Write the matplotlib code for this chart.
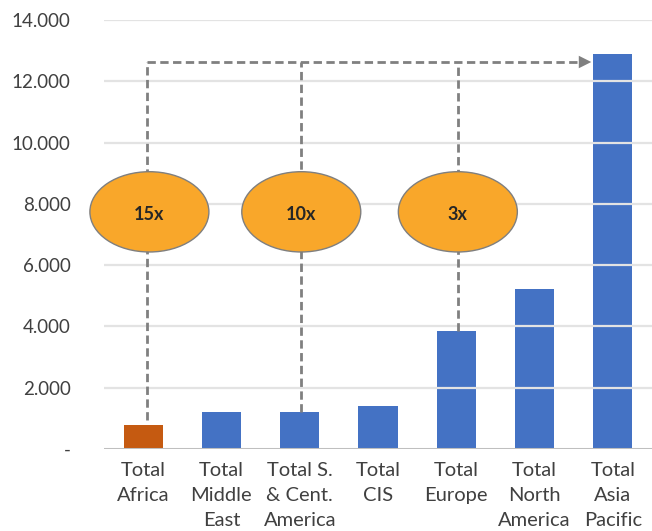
import matplotlib
matplotlib.use('Agg')
import matplotlib.pyplot as plt
from matplotlib.patches import Ellipse

# data
regions = ['Total\nAfrica', 'Total\nMiddle\nEast', 'Total S.\n& Cent.\nAmerica', 'Total\nCIS',
           'Total\nEurope', 'Total\nNorth\nAmerica', 'Total\nAsia\nPacific']
values = [780, 1210, 1210, 1400, 3850, 5220, 12890]
bar_colors = ['#c55a11', '#4472c4', '#4472c4', '#4472c4', '#4472c4', '#4472c4', '#4472c4']
yticks = [0, 2000, 4000, 6000, 8000, 10000, 12000, 14000]
ytick_labels = ['-', '2.000', '4.000', '6.000', '8.000', '10.000', '12.000', '14.000']
multiples = ['15x', '10x', '3x']
multiple_from = [0, 2, 4]   # index of the bar each multiple starts from

plt.rcParams['font.family'] = ['Lato', 'DejaVu Sans']
text_col = '#404040'

fig = plt.figure(figsize=(6.52, 5.31), dpi=100)
ax = fig.add_axes([0.1595, 0.1544, 0.8405, 0.8079])

x = list(range(len(regions)))
ax.bar(x, values, width=0.5, color=bar_colors, zorder=2)

# grid on top of bars
ax.set_ylim(0, 14000)
ax.set_xlim(-0.5, 6.5)
ax.set_yticks(yticks)
ax.set_yticklabels(ytick_labels)
for t in yticks[1:]:
    ax.axhline(t, color='#e3e3e3', lw=1.6, zorder=3)
ax.axhline(0, color='#bfbfbf', lw=2.2, zorder=4)

for s in ax.spines.values():
    s.set_visible(False)
ax.tick_params(axis='y', length=0, pad=24, labelsize=13.5, labelcolor=text_col)
ax.tick_params(axis='x', length=0, pad=9, labelsize=14.5, labelcolor=text_col)
ax.set_xticks(x)
ax.set_xticklabels(regions, linespacing=1.6, va='top')

# dashed connectors
top_y = 12630
dash = dict(color='#808080', lw=2, ls=(0, (3, 1.6)), zorder=5)
for i in multiple_from:
    xo = i + 0.05 if i == 0 else i + 0.02
    y0 = values[i] + 170 if i == 0 else values[i]
    ax.plot([xo, xo], [y0, top_y], **dash)
ax.plot([0.05, 5.62], [top_y, top_y], **dash)
ax.annotate('', xy=(5.76, top_y), xytext=(5.55, top_y),
            arrowprops=dict(arrowstyle='-|>,head_length=0.9,head_width=0.45',
                            color='#808080', lw=0), zorder=6)

# ellipses with multiples
ell_y = 7740
for i, lab in zip(multiple_from, multiples):
    xo = i + 0.08 if i == 0 else i + 0.02
    e = Ellipse((xo, ell_y), width=1.52, height=2620, facecolor='#f9a72a',
                edgecolor='#7f7f7f', lw=1, zorder=7, clip_on=False)
    ax.add_patch(e)
    ax.text(xo, ell_y - 80, lab, ha='center', va='center', fontsize=13,
            fontweight='bold', color='#262626', zorder=8)

fig.savefig('out.png', dpi=100)
